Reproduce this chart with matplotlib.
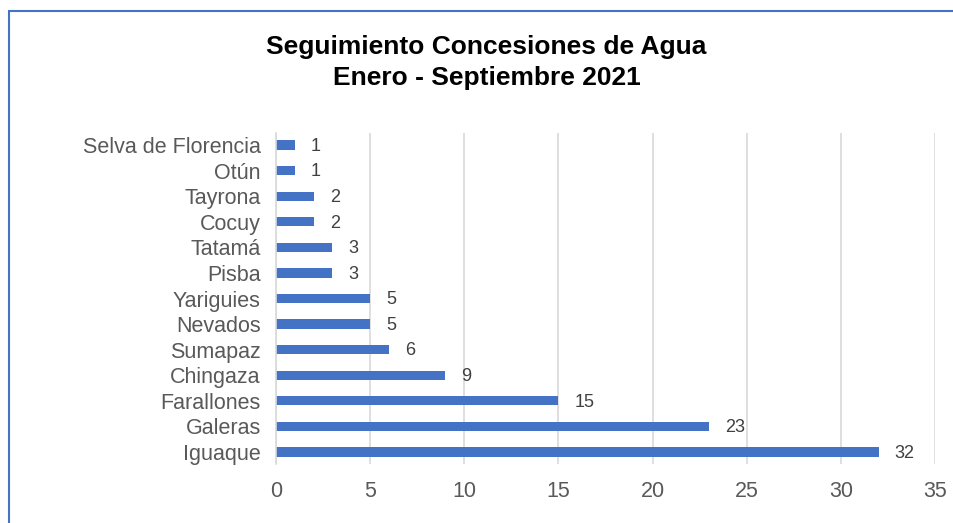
import matplotlib.pyplot as plt
from matplotlib.patches import Rectangle

plt.rcParams['font.family'] = ['Liberation Sans', 'DejaVu Sans']

parques = ["Iguaque", "Galeras", "Farallones", "Chingaza", "Sumapaz", "Nevados",
           "Yariguies", "Pisba", "Tatamá", "Cocuy", "Tayrona", "Otún", "Selva de Florencia"]
concesiones = [32, 23, 15, 9, 6, 5, 5, 3, 3, 2, 2, 1, 1]
x_ticks = [0, 5, 10, 15, 20, 25, 30, 35]

fig = plt.figure(figsize=(9.54, 5.23), dpi=100)
ax = fig.add_axes([276 / 954, 1 - 464 / 523, 659 / 954, 331 / 523])

pos = list(range(len(parques)))
ax.barh(pos, concesiones, height=0.36, color="#4472C4", zorder=3)
for y, v in zip(pos, concesiones):
    ax.text(v + 0.85, y - 0.05, str(v), va="center", ha="left", fontsize=13, color="#404040")

ax.set_xlim(0, 35)
ax.set_ylim(-0.47, len(parques) - 0.53)
ax.set_xticks(x_ticks)
ax.set_yticks(pos)
ax.set_yticklabels(parques)
ax.tick_params(axis="both", length=0, labelsize=15.5, colors="#595959")
ax.tick_params(axis="x", pad=12)
ax.tick_params(axis="y", pad=11)
ax.grid(axis="x", color="#D9D9D9", linewidth=1.2, zorder=0)
for s in ["top", "right", "bottom"]:
    ax.spines[s].set_visible(False)
ax.spines["left"].set_color("#D9D9D9")
ax.spines["left"].set_linewidth(1.2)
ax.spines["left"].set_zorder(4)

fig.text(0.51, 1 - 47 / 523, "Seguimiento Concesiones de Agua", ha="center", va="center",
         fontsize=19, fontweight="bold")
fig.text(0.51, 1 - 78 / 523, "Enero - Septiembre 2021", ha="center", va="center",
         fontsize=19, fontweight="bold")

# chart border (cropped at right and bottom)
fig.patches.append(Rectangle((9 / 954, -0.1), 1.2, 1 - 11 / 523 + 0.1, transform=fig.transFigure,
                             fill=False, edgecolor="#4472C4", linewidth=1.5))

fig.savefig("out.png", dpi=100)
